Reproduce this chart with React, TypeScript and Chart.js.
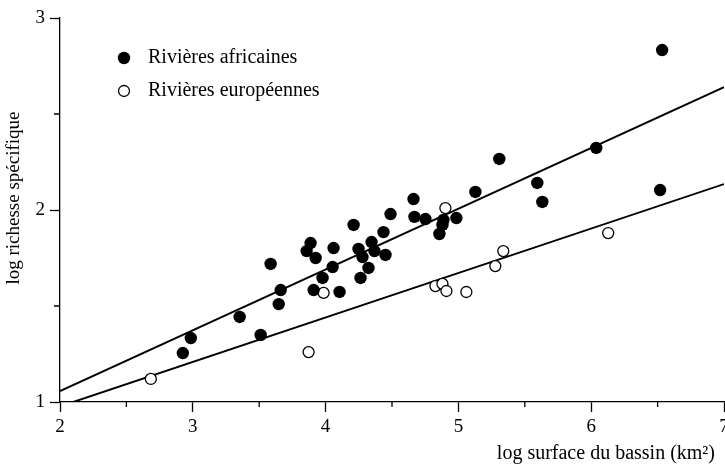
import React, { useEffect, useRef } from "react";
import { Chart, registerables } from "chart.js";

Chart.register(...registerables);

// log surface du bassin (km²) / log richesse spécifique
const africanX = [2.925, 2.985, 3.353, 3.511, 3.586, 3.647, 3.662, 3.857, 3.887, 3.925, 3.91, 3.977, 4.053, 4.06, 4.105, 4.211, 4.248, 4.278, 4.263, 4.323, 4.346, 4.368, 4.451, 4.436, 4.489, 4.662, 4.669, 4.752, 4.857, 4.887, 4.88, 4.985, 5.128, 5.308, 5.594, 5.632, 6.038, 6.519, 6.534];
const africanY = [1.255, 1.333, 1.443, 1.349, 1.719, 1.51, 1.583, 1.786, 1.828, 1.75, 1.583, 1.646, 1.703, 1.802, 1.573, 1.922, 1.797, 1.755, 1.646, 1.698, 1.833, 1.786, 1.766, 1.885, 1.979, 2.057, 1.964, 1.953, 1.875, 1.948, 1.922, 1.958, 2.094, 2.266, 2.141, 2.042, 2.323, 2.104, 2.833];

const europeanX = [2.684, 3.872, 3.985, 4.827, 4.88, 4.91, 4.902, 5.06, 5.278, 5.338, 6.128];
const europeanY = [1.12, 1.26, 1.568, 1.604, 1.615, 1.578, 2.01, 1.573, 1.708, 1.786, 1.88];

// regression line end points
const africanFitX = [2, 7];
const africanFitY = [1.057, 2.64];
const europeanFitX = [2.1, 7];
const europeanFitY = [1.0, 2.135];

const xTicks = [2, 3, 4, 5, 6, 7];
const yTicks = [1, 2, 3];

const seriesNames = ["Rivières africaines", "Rivières européennes"];
const xTitle = "log surface du bassin (km²)";
const yTitle = "log richesse spécifique";

const FONT = "'Liberation Serif', 'Times New Roman', serif";

const zip = (xs: number[], ys: number[]) => xs.map((x, i) => ({ x, y: ys[i] }));

const decorPlugin = {
  id: "decor",
  afterDraw(chart: any) {
    const { ctx, chartArea, scales } = chart;
    const xs = scales.x;
    const ys = scales.y;
    ctx.save();
    // minor ticks
    ctx.strokeStyle = "#000";
    ctx.lineWidth = 1.3;
    ctx.beginPath();
    for (let v = 2.5; v < 7; v += 1) {
      const px = xs.getPixelForValue(v);
      ctx.moveTo(px, chartArea.bottom);
      ctx.lineTo(px, chartArea.bottom + 5);
    }
    for (let v = 1.5; v < 3; v += 1) {
      const py = ys.getPixelForValue(v);
      ctx.moveTo(chartArea.left, py);
      ctx.lineTo(chartArea.left - 6, py);
    }
    ctx.stroke();

    // legend
    const lx = chartArea.left + 64;
    const ly1 = chartArea.top + 40;
    const ly2 = chartArea.top + 73;
    ctx.fillStyle = "#000";
    ctx.beginPath();
    ctx.arc(lx, ly1, 6.2, 0, Math.PI * 2);
    ctx.fill();
    ctx.fillStyle = "#fff";
    ctx.beginPath();
    ctx.arc(lx, ly2, 5.5, 0, Math.PI * 2);
    ctx.fill();
    ctx.lineWidth = 1.3;
    ctx.stroke();
    ctx.fillStyle = "#000";
    ctx.font = `20px ${FONT}`;
    ctx.textAlign = "left";
    ctx.textBaseline = "middle";
    ctx.fillText(seriesNames[0], lx + 24, ly1);
    ctx.fillText(seriesNames[1], lx + 24, ly2);

    // axis titles
    ctx.textAlign = "right";
    ctx.fillText(xTitle, chartArea.right - 9, 454);
    ctx.save();
    ctx.font = `19px ${FONT}`;
    ctx.translate(14, 198);
    ctx.rotate(-Math.PI / 2);
    ctx.textAlign = "center";
    ctx.fillText(yTitle, 0, 0);
    ctx.restore();
    ctx.restore();
  },
};

export default function App() {
  const ref = useRef<HTMLCanvasElement | null>(null);

  useEffect(() => {
    if (!ref.current) return;
    const chart = new Chart(ref.current, {
      type: "scatter",
      data: {
        datasets: [
          {
            label: seriesNames[0],
            data: zip(africanX, africanY),
            pointRadius: 6.2,
            pointBackgroundColor: "#000",
            pointBorderColor: "#000",
            pointBorderWidth: 0,
            order: 0,
          },
          {
            label: seriesNames[1],
            data: zip(europeanX, europeanY),
            pointRadius: 5.5,
            pointBackgroundColor: "#fff",
            pointBorderColor: "#000",
            pointBorderWidth: 1.3,
            order: 0,
          },
          {
            type: "line",
            label: "fit A",
            data: zip(africanFitX, africanFitY),
            showLine: true,
            pointRadius: 0,
            borderColor: "#000",
            borderWidth: 1.9,
            fill: false,
            order: 2,
          },
          {
            type: "line",
            label: "fit E",
            data: zip(europeanFitX, europeanFitY),
            showLine: true,
            pointRadius: 0,
            borderColor: "#000",
            borderWidth: 1.9,
            fill: false,
            order: 2,
          },
        ] as any,
      },
      options: {
        animation: false,
        responsive: false,
        devicePixelRatio: 1,
        layout: { autoPadding: false, padding: { top: 18, right: 1, left: 0, bottom: 0 } } as any,
        plugins: {
          legend: { display: false },
          tooltip: { enabled: false },
          title: { display: false },
        },
        scales: {
          x: {
            type: "linear",
            min: 2,
            max: 7,
            afterFit: (s: any) => {
              s.height = 64;
              s.paddingLeft = 0;
              s.paddingRight = 0;
            },
            afterBuildTicks: (s: any) => {
              s.ticks = xTicks.map((v) => ({ value: v }));
            },
            ticks: {
              autoSkip: false,
              maxRotation: 0,
              color: "#000",
              padding: 4,
              font: { family: FONT, size: 19 },
            },
            grid: {
              display: true,
              drawOnChartArea: false,
              drawTicks: true,
              tickLength: 10,
              tickColor: "#000",
              tickWidth: 1.3,
            },
            border: { display: true, color: "#000", width: 1.3 },
          },
          y: {
            type: "linear",
            min: 1,
            max: 3,
            afterFit: (s: any) => {
              s.width = 60;
              s.paddingTop = 0;
              s.paddingBottom = 0;
            },
            afterBuildTicks: (s: any) => {
              s.ticks = yTicks.map((v) => ({ value: v }));
            },
            ticks: {
              autoSkip: false,
              color: "#000",
              padding: 5,
              font: { family: FONT, size: 19 },
            },
            grid: {
              display: true,
              drawOnChartArea: false,
              drawTicks: true,
              tickLength: 10,
              tickColor: "#000",
              tickWidth: 1.3,
            },
            border: { display: true, color: "#000", width: 1.3 },
          },
        },
      },
      plugins: [decorPlugin],
    });
    return () => chart.destroy();
  }, []);

  return (
    <div style={{ position: "absolute", left: 0, top: 0, width: 725, height: 466, background: "#fff" }}>
      <canvas ref={ref} width={725} height={466} style={{ display: "block" }} />
    </div>
  );
}
